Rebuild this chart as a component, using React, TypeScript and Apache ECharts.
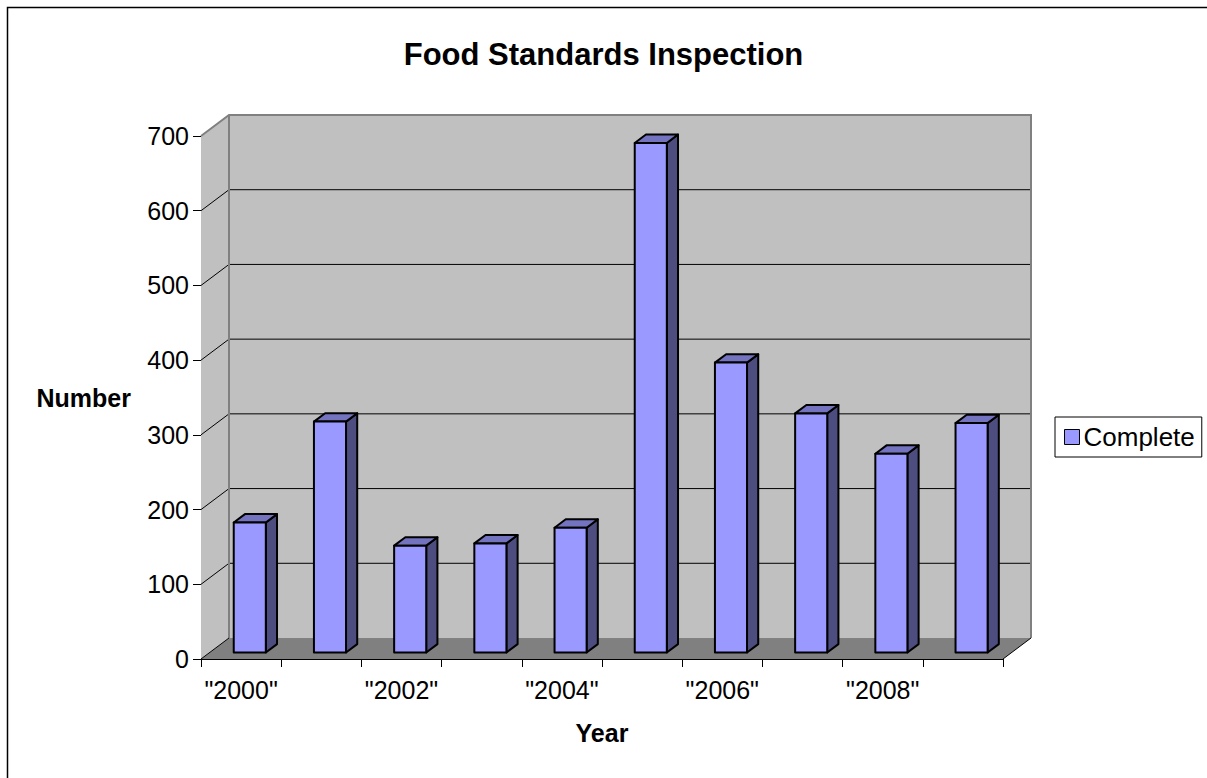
import React, { useEffect, useRef } from "react";
import * as echarts from "echarts";

// Inspections completed per year
const years = ['"2000"', '"2001"', '"2002"', '"2003"', '"2004"', '"2005"', '"2006"', '"2007"', '"2008"', '"2009"'];
const complete = [174, 309, 143, 146, 167, 682, 388, 320, 266, 307];
const yTicks = [0, 100, 200, 300, 400, 500, 600, 700];

// Pseudo-3D box: how far the back wall sits behind the front plane, in pixels
const DEPTH_X = 28;
const DEPTH_Y = -21;
// Where a column's front and back faces sit inside that depth (0 = front, 1 = back)
const BAR_FRONT = 0.31;
const BAR_BACK = 0.71;
// Column width as a share of the category band
const BAR_WIDTH = 0.4;

const FONT = "'Liberation Sans', Arial, sans-serif";

export default function App() {
  const ref = useRef<HTMLDivElement>(null);

  useEffect(() => {
    document.body.style.margin = "0";
    const chart = echarts.init(ref.current!, null, { renderer: "svg" });

    const renderWalls = (params: any, api: any) => {
      const cs = params.coordSys;
      const x0 = cs.x;
      const y0 = cs.y;
      const x1 = cs.x + cs.width;
      const y1 = cs.y + cs.height;
      const children: any[] = [
        {
          type: "polygon",
          shape: { points: [[x0, y0], [x0 + DEPTH_X, y0 + DEPTH_Y], [x0 + DEPTH_X, y1 + DEPTH_Y], [x0, y1]] },
          style: { fill: "#c0c0c0" },
        },
        {
          type: "rect",
          shape: { x: x0 + DEPTH_X, y: y0 + DEPTH_Y, width: cs.width, height: cs.height },
          style: { fill: "#c0c0c0" },
        },
        {
          type: "polygon",
          shape: { points: [[x0, y1], [x0 + DEPTH_X, y1 + DEPTH_Y], [x1 + DEPTH_X, y1 + DEPTH_Y], [x1, y1]] },
          style: { fill: "#808080" },
        },
      ];
      yTicks.forEach((v) => {
        if (v === 0 || v === yTicks[yTicks.length - 1]) return;
        const y = api.coord([0, v])[1];
        children.push({
          type: "line",
          shape: { x1: x0 + DEPTH_X, y1: y + DEPTH_Y, x2: x1 + DEPTH_X, y2: y + DEPTH_Y },
          style: { stroke: "#000", lineWidth: 1 },
        });
        children.push({
          type: "line",
          shape: { x1: x0, y1: y, x2: x0 + DEPTH_X, y2: y + DEPTH_Y },
          style: { stroke: "#000", lineWidth: 1 },
        });
      });
      children.push({
        type: "polyline",
        shape: { points: [[x0, y0], [x0 + DEPTH_X, y0 + DEPTH_Y], [x1 + DEPTH_X, y0 + DEPTH_Y], [x1 + DEPTH_X, y1 + DEPTH_Y]] },
        style: { stroke: "#808080", lineWidth: 2, fill: null },
      });
      children.push({
        type: "line",
        shape: { x1: x0 + DEPTH_X, y1: y0 + DEPTH_Y, x2: x0 + DEPTH_X, y2: y1 + DEPTH_Y },
        style: { stroke: "#808080", lineWidth: 2 },
      });
      children.push({
        type: "line",
        shape: { x1: x1, y1: y1, x2: x1 + DEPTH_X, y2: y1 + DEPTH_Y },
        style: { stroke: "#000", lineWidth: 1 },
      });
      children.push({
        type: "line",
        shape: { x1: x0, y1: y1, x2: x0 + DEPTH_X, y2: y1 + DEPTH_Y },
        style: { stroke: "#000", lineWidth: 1 },
      });
      return { type: "group", children };
    };

    const renderBar = (params: any, api: any) => {
      const i = api.value(0);
      const v = api.value(1);
      const base = api.coord([i, 0]);
      const top = api.coord([i, v]);
      const band = api.size([1, 0])[0];
      const w = band * BAR_WIDTH;
      const fx = base[0] - w / 2 + DEPTH_X * BAR_FRONT;
      const fyB = base[1] + DEPTH_Y * BAR_FRONT;
      const fyT = top[1] + DEPTH_Y * BAR_FRONT;
      const ddx = DEPTH_X * (BAR_BACK - BAR_FRONT);
      const ddy = DEPTH_Y * (BAR_BACK - BAR_FRONT);
      const edge = { stroke: "#000", lineWidth: 2, lineJoin: "round" };
      return {
        type: "group",
        children: [
          {
            type: "polygon",
            shape: { points: [[fx + w, fyT], [fx + w + ddx, fyT + ddy], [fx + w + ddx, fyB + ddy], [fx + w, fyB]] },
            style: { fill: "#4d4d80", ...edge },
          },
          {
            type: "polygon",
            shape: { points: [[fx, fyT], [fx + ddx, fyT + ddy], [fx + w + ddx, fyT + ddy], [fx + w, fyT]] },
            style: { fill: "#7373bf", ...edge },
          },
          {
            type: "rect",
            shape: { x: fx, y: fyT, width: w, height: fyB - fyT },
            style: { fill: "#9999ff", ...edge },
          },
        ],
      };
    };

    chart.setOption({
      animation: false,
      backgroundColor: "#ffffff",
      textStyle: { fontFamily: FONT },
      title: {
        text: "Food Standards Inspection",
        left: "center",
        top: 34,
        textStyle: { fontFamily: FONT, fontSize: 31, fontWeight: "bold", color: "#000" },
      },
      legend: {
        data: [
          {
            name: "Complete",
            icon: "rect",
            itemStyle: { color: "#9999ff", borderColor: "#000", borderWidth: 1 },
          },
        ],
        left: 1055,
        top: 417,
        orient: "vertical",
        itemWidth: 15,
        itemHeight: 15,
        itemGap: 0,
        padding: [7, 7, 7, 9],
        borderColor: "#000",
        borderWidth: 1,
        backgroundColor: "#fff",
        textStyle: { fontFamily: FONT, fontSize: 26, color: "#000", padding: [0, 0, 0, -1] },
      },
      grid: { left: 201, top: 136, width: 802, height: 523 },
      xAxis: {
        type: "category",
        data: years,
        boundaryGap: true,
        name: "Year",
        nameLocation: "middle",
        nameGap: 61,
        nameTextStyle: { fontFamily: FONT, fontSize: 25, fontWeight: "bold", color: "#000" },
        axisLine: { show: true, lineStyle: { color: "#000", width: 1 } },
        axisTick: { show: true, length: 8, interval: 0, lineStyle: { color: "#000" } },
        axisLabel: { interval: 1, margin: 18, fontFamily: FONT, fontSize: 25, color: "#000" },
        splitLine: { show: false },
      },
      yAxis: {
        type: "value",
        min: 0,
        max: 700,
        interval: 100,
        name: "Number",
        nameLocation: "middle",
        nameRotate: 0,
        nameGap: 70,
        nameTextStyle: { fontFamily: FONT, fontSize: 25, fontWeight: "bold", color: "#000" },
        axisLine: { show: true, lineStyle: { color: "#000", width: 1 } },
        axisTick: { show: true, length: 8, lineStyle: { color: "#000" } },
        axisLabel: { margin: 12, fontFamily: FONT, fontSize: 25, color: "#000" },
        splitLine: { show: false },
      },
      graphic: [
        {
          type: "rect",
          shape: { x: 7.5, y: 7.5, width: 1230, height: 800 },
          style: { fill: null, stroke: "#000", lineWidth: 1.5 },
          silent: true,
          z: 100,
        },
      ],
      series: [
        {
          type: "custom",
          name: "walls",
          silent: true,
          z: 1,
          data: [[0, 0]],
          renderItem: renderWalls,
        },
        {
          type: "custom",
          name: "Complete",
          z: 2,
          itemStyle: { color: "#9999ff", borderColor: "#000", borderWidth: 1 },
          data: complete.map((v, i) => [i, v]),
          encode: { x: 0, y: 1 },
          renderItem: renderBar,
        },
      ],
    });

    return () => chart.dispose();
  }, []);

  return <div ref={ref} style={{ width: 1207, height: 778 }} />;
}
